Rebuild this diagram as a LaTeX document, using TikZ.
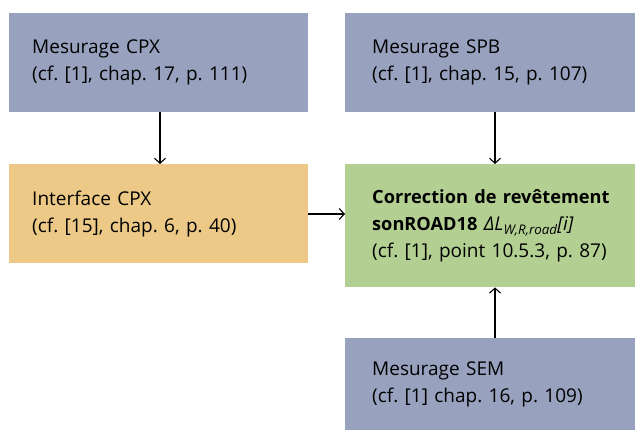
\documentclass[tikz,border=0pt]{standalone}
\usepackage{fontspec}
\setmainfont{Open Sans}
\usetikzlibrary{arrows.meta}
\definecolor{bluebox}{RGB}{152,162,191}
\definecolor{orangebox}{RGB}{236,201,134}
\definecolor{greenbox}{RGB}{179,208,146}
\tikzset{
  box/.style={rectangle, draw=none, anchor=north west, align=left, inner sep=0pt,
    font=\fontsize{19}{27}\selectfont\frenchspacing},
  conn/.style={line width=1.1pt, -{Straight Barb[length=5pt,width=11pt,line width=1.1pt]}}
}
\newcommand{\boldtxt}[1]{{\fontsize{18.2}{27}\selectfont\bfseries #1}}
\begin{document}
\begin{tikzpicture}[x=1pt,y=-1pt]
\useasboundingbox (0,0) rectangle (635,430);
\node[box, fill=bluebox, minimum width=299pt, minimum height=99pt, text width=253pt] (cpx) at (9,13)
  {\mbox{Mesurage CPX}\\\mbox{(cf. [1], chap. 17, p. 111)}};
\node[box, fill=bluebox, minimum width=290pt, minimum height=99pt, text width=236pt] (spb) at (345,13)
  {\mbox{Mesurage SPB}\\\mbox{(cf. [1], chap. 15, p. 107)}};
\node[box, fill=orangebox, minimum width=299pt, minimum height=99pt, text width=253pt] (iface) at (9,164)
  {\mbox{Interface CPX}\\\mbox{(cf. [15], chap. 6, p. 40)}};
\node[box, fill=greenbox, minimum width=290pt, minimum height=123pt, text width=236pt] (corr) at (345,164)
  {\mbox{\boldtxt{Correction de revêtement}}\\\mbox{\boldtxt{sonROAD18} {\itshape ΔL\textsubscript{W,R,road}[i]}}\\\mbox{(cf. [1], point 10.5.3, p. 87)}};
\node[box, fill=bluebox, minimum width=290pt, minimum height=92pt, text width=236pt] (sem) at (345,338)
  {\mbox{Mesurage SEM}\\\mbox{(cf. [1] chap. 16, p. 109)}};
\draw[conn] (cpx.south -| 160,0) -- (iface.north -| 160,0);
\draw[conn] (spb.south -| 495,0) -- (corr.north -| 495,0);
\draw[conn] (sem.north -| 495,0) -- (corr.south -| 495,0);
\draw[conn] (iface.east |- 0,214) -- (corr.west |- 0,214);
\end{tikzpicture}
\end{document}
